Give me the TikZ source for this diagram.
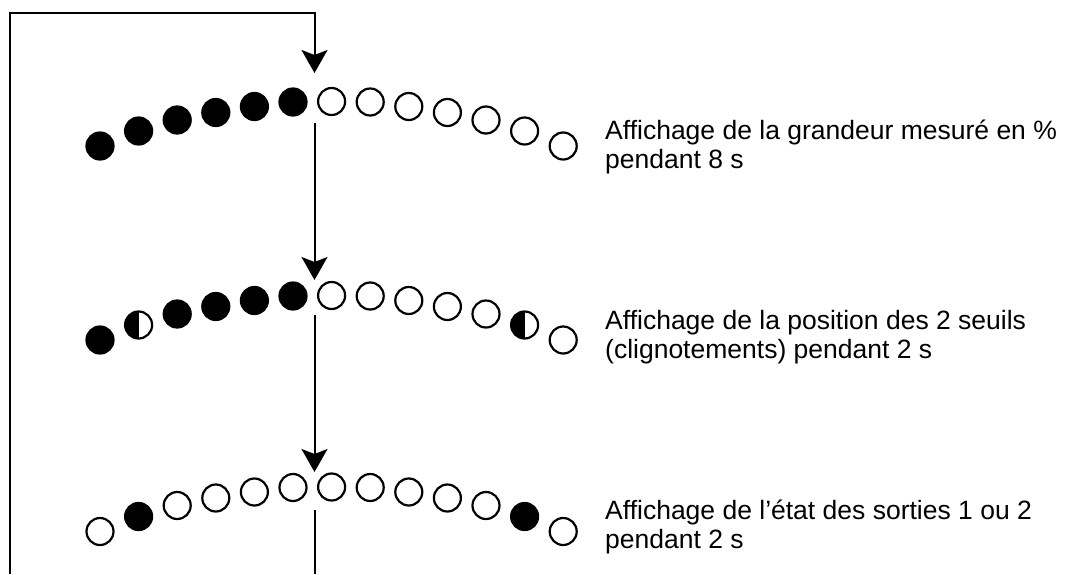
\documentclass[tikz,border=0pt]{standalone}
\usepackage{fontspec}
\setmainfont{Liberation Sans}
\usetikzlibrary{arrows.meta}
\begin{document}
\begin{tikzpicture}[x=1pt,y=-1pt,
  led/.style={circle,draw=black,line width=2.2pt,minimum size=27pt,inner sep=0pt},
  ledon/.style={led,fill=black},
  ledoff/.style={led,fill=white},
  ledhalf/.style={led,fill=white,path picture={\fill[black] (path picture bounding box.south west) rectangle (path picture bounding box.north);}},
  flow/.style={line width=2pt,-{Stealth[length=23pt,width=26pt,inset=5pt]}},
  wire/.style={line width=2pt},
  desc/.style={anchor=base west,align=left,inner sep=0pt,font=\fontsize{26.5}{29}\selectfont}]
\useasboundingbox (0,0) rectangle (1077,574);
% row 1
\foreach \i/\d/\s in {0/44.5/on,1/29.5/on,2/18.5/on,3/11/on,4/5/on,5/0.5/on,6/0/off,7/0.5/off,8/5/off,9/11/off,10/18.5/off,11/29.5/off,12/44.5/off}
  \node[led\s] (r1c\i) at ({100+38.6*\i},{101.5+\d}) {};
% row 2
\foreach \i/\d/\s in {0/44.5/on,1/29.5/half,2/18.5/on,3/11/on,4/5/on,5/0.5/on,6/0/off,7/0.5/off,8/5/off,9/11/off,10/18.5/off,11/29.5/half,12/44.5/off}
  \node[led\s] (r2c\i) at ({100+38.6*\i},{295.5+\d}) {};
% row 3
\foreach \i/\d/\s in {0/44.5/off,1/29.5/on,2/18.5/off,3/11/off,4/5/off,5/0.5/off,6/0/off,7/0.5/off,8/5/off,9/11/off,10/18.5/off,11/29.5/on,12/44.5/off}
  \node[led\s] (r3c\i) at ({100+38.6*\i},{487+\d}) {};
% texts (base anchor = baseline of the last line)
\node[desc] (t1) at (605,168) {Affichage de la grandeur mesuré en \%\\pendant 8 s};
\node[desc] (t2) at (605,358) {Affichage de la position des 2 seuils\\(clignotements) pendant 2 s};
\node[desc] (t3) at (605,548) {Affichage de l’état des sorties 1 ou 2\\pendant 2 s};
% connectors
\coordinate (loopbottom) at (10,574);
\coordinate (loopcorner) at (10,12.5);
\coordinate (loopturn) at (314.5,12.5);
\coordinate (in1) at (314.5,73);
\coordinate (out1) at (314.5,123);
\coordinate (in2) at (314.5,280);
\coordinate (out2) at (314.5,315);
\coordinate (in3) at (314.5,472);
\coordinate (out3) at (314.5,510);
\coordinate (exit) at (314.5,574);
\draw[flow] (loopbottom) -- (loopcorner) -- (loopturn) -- (in1);
\draw[flow] (out1) -- (in2);
\draw[flow] (out2) -- (in3);
\draw[wire] (out3) -- (exit);
\end{tikzpicture}
\end{document}
